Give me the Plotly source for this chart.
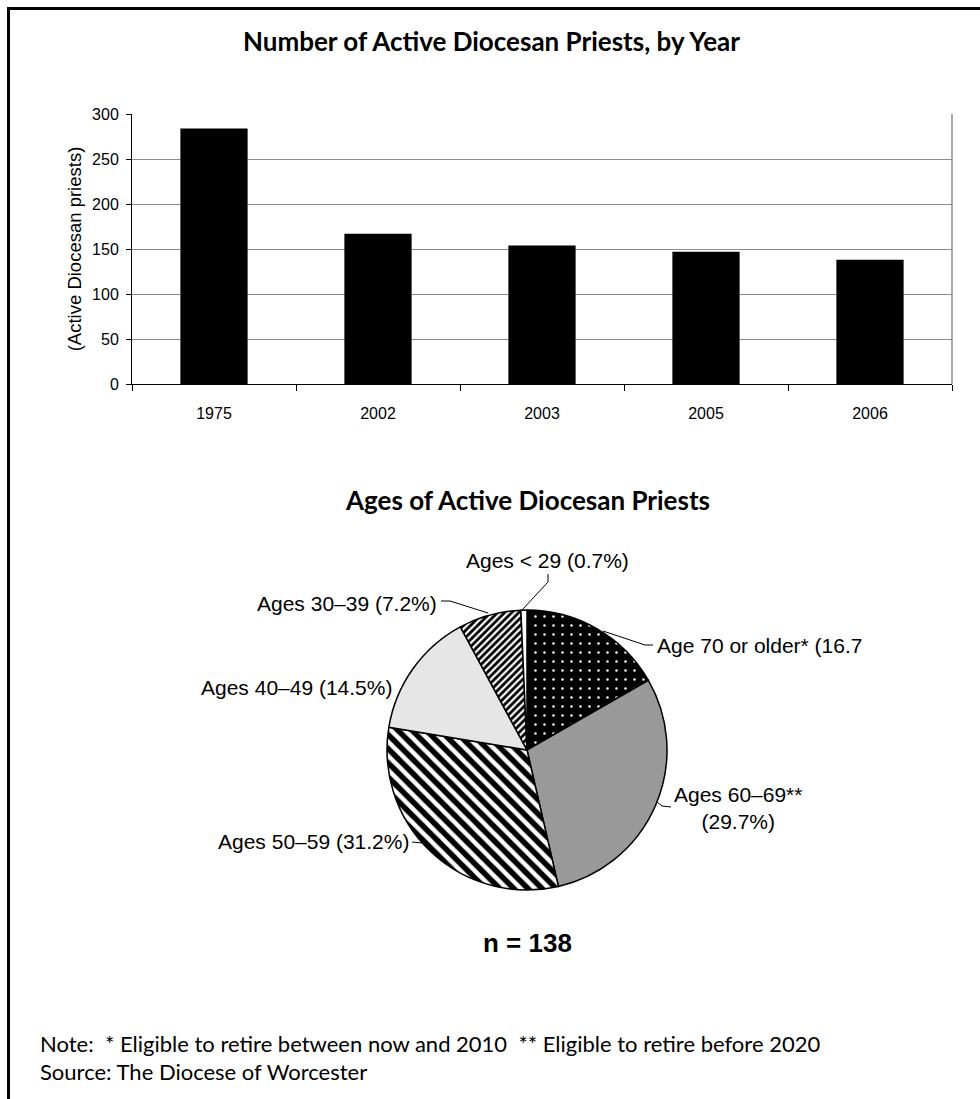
import plotly.graph_objects as go

# ---------------- data ----------------
years = ["1975", "2002", "2003", "2005", "2006"]
priests = [284, 167, 154, 147, 138]

age_groups = ["Age 70 or older*", "Ages 60–69**", "Ages 50–59", "Ages 40–49", "Ages 30–39", "Ages < 29"]
age_pct = [16.7, 29.7, 31.2, 14.5, 7.2, 0.7]

W, H = 980, 1099


def px(x):
    return x / W


def py(y):
    return 1 - y / H


fig = go.Figure()

# ---------------- bar chart ----------------
fig.add_trace(go.Bar(
    x=years, y=priests, marker=dict(color="black", line=dict(width=0)),
    width=0.41, xaxis="x", yaxis="y", showlegend=False, hoverinfo="x+y",
))

# ---------------- pie chart ----------------
cx, cy, r = 527, 750, 140
fig.add_trace(go.Pie(
    labels=age_groups, values=age_pct, sort=False, direction="clockwise", rotation=0,
    textinfo="none", showlegend=False,
    domain=dict(x=[px(cx - r), px(cx + r)], y=[py(cy + r), py(cy - r)]),
    marker=dict(
        colors=["black", "#999999", "black", "#e6e6e6", "white", "white"],
        line=dict(color="black", width=1.5),
        pattern=dict(
            shape=[".", "", "\\", "", "/", ""],
            fgcolor=["white", "#999999", "white", "#e6e6e6", "black", "white"],
            bgcolor=["black", "#999999", "black", "#e6e6e6", "white", "white"],
            size=[9, 8, 10, 8, 5, 8],
            solidity=[0.06, 0.3, 0.45, 0.3, 0.55, 0.3],
            fillmode="replace",
        ),
    ),
))

# ---------------- labels for the pie ----------------
font_lbl = dict(family="Liberation Sans, Arial", size=21, color="black")
annotations = []
shapes = []

pie_labels = [
    ("Age 70 or older* (16.7", 655, 645, "left"),
    ("Ages 60–69**<br>(29.7%)", 738, 808, "center"),
    ("Ages 50–59 (31.2%)", 411, 841, "right"),
    ("Ages 40–49 (14.5%)", 394, 687, "right"),
    ("Ages 30–39 (7.2%)", 439, 603, "right"),
    ("Ages < 29 (0.7%)", 547, 560, "center"),
]
for text, x, y, al in pie_labels:
    annotations.append(dict(
        text=text, x=px(x), y=py(y), xref="paper", yref="paper",
        xanchor=al, yanchor="middle", showarrow=False, font=font_lbl, align="center",
    ))

leaders = [
    [(653, 645), (645, 645), (603, 631)],
    [(671, 807), (662, 806), (657, 802)],
    [(412, 842), (422, 843)],
    [(441, 601), (450, 601), (488, 613)],
    [(548, 574), (548, 582), (522, 610)],
]
for seg in leaders:
    for (x0, y0), (x1, y1) in zip(seg[:-1], seg[1:]):
        shapes.append(dict(type="line", xref="paper", yref="paper",
                           x0=px(x0), y0=py(y0), x1=px(x1), y1=py(y1),
                           line=dict(color="black", width=1)))

# ---------------- titles and notes ----------------
tfont = dict(family="Lato", size=26, color="black")
nfont = dict(family="Lato", size=22, color="black")
annotations += [
    dict(text="<b>Number of Active Diocesan Priests, by Year</b>", x=px(491), y=py(41),
         xref="paper", yref="paper", showarrow=False, xanchor="center", yanchor="middle",
         font=tfont),
    dict(text="<b>Ages of Active Diocesan Priests</b>", x=px(527), y=py(500),
         xref="paper", yref="paper", showarrow=False, xanchor="center", yanchor="middle",
         font=tfont),
    dict(text="<b>n = 138</b>", x=px(527), y=py(943), xref="paper", yref="paper",
         showarrow=False, xanchor="center", yanchor="middle",
         font=dict(family="Liberation Sans, Arial", size=26, color="black")),
    dict(text="Note:  * Eligible to retire between now and 2010  ** Eligible to retire before 2020",
         x=px(38), y=py(1043), xref="paper", yref="paper", showarrow=False,
         xanchor="left", yanchor="middle", font=nfont),
    dict(text="Source: The Diocese of Worcester", x=px(38), y=py(1071),
         xref="paper", yref="paper", showarrow=False, xanchor="left", yanchor="middle",
         font=nfont),
]

# outer frame (top and left edges visible)
shapes.append(dict(type="rect", xref="paper", yref="paper",
                   x0=px(8.5), y0=py(1120), x1=px(1000), y1=py(8.5),
                   line=dict(color="black", width=3), fillcolor="rgba(0,0,0,0)"))
# plot-area right border
shapes.append(dict(type="line", xref="x domain", yref="y domain",
                   x0=1, x1=1, y0=0, y1=1, line=dict(color="#8c8c8c", width=1.5)))

axis_font = dict(family="Liberation Sans, Arial", size=16, color="black")
fig.update_layout(
    width=W, height=H,
    margin=dict(l=0, r=0, t=0, b=0, pad=0, autoexpand=False),
    paper_bgcolor="white", plot_bgcolor="white",
    xaxis=dict(domain=[px(132), px(952)], anchor="y", type="category",
               showline=True, linecolor="black", linewidth=1,
               ticks="outside", tickson="boundaries", ticklen=6, tickcolor="black",
               tickfont=axis_font, ticklabelstandoff=15, showgrid=False, zeroline=False,
               automargin=False),
    yaxis=dict(domain=[py(384), py(114)], anchor="x", range=[0, 300], dtick=50,
               showline=True, linecolor="black", linewidth=1,
               ticks="outside", ticklen=5, tickcolor="black", tickfont=axis_font,
               ticklabelstandoff=4, automargin=False,
               showgrid=True, gridcolor="#8c8c8c", gridwidth=1, zeroline=False,
               title=dict(text="(Active Diocesan priests)",
                          font=dict(family="Liberation Sans, Arial", size=18.5, color="black"),
                          standoff=5)),
    annotations=annotations,
    shapes=shapes,
)

pin = ("document.documentElement.style.margin='0';document.body.style.margin='0';"
       "var gd=document.getElementsByClassName('plotly-graph-div')[0];"
       "gd.style.position='fixed';gd.style.left='0px';gd.style.top='0px';")
fig.write_html("out.html", config={"displayModeBar": False}, post_script=pin)
